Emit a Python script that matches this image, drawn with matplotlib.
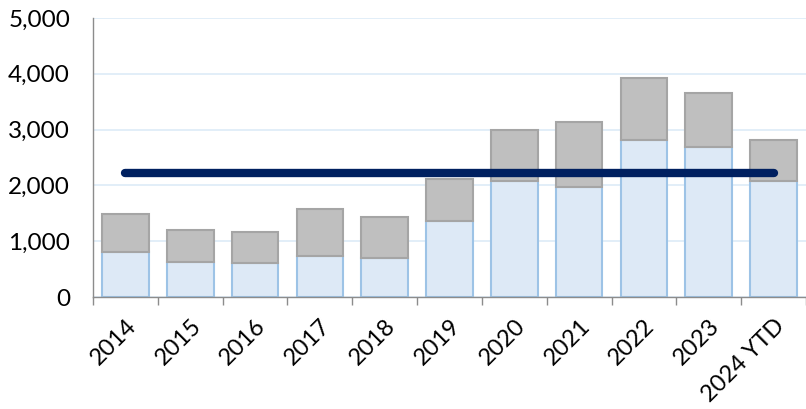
import matplotlib
matplotlib.use("Agg")
import matplotlib.pyplot as plt
import numpy as np

categories = ["2014", "2015", "2016", "2017", "2018", "2019", "2020",
              "2021", "2022", "2023", "2024 YTD"]
base_values = [800, 620, 610, 740, 690, 1370, 2075, 1975, 2815, 2690, 2075]
totals = [1490, 1200, 1160, 1580, 1440, 2120, 2990, 3140, 3930, 3660, 2810]
average = 2230
y_ticks = [0, 1000, 2000, 3000, 4000, 5000]

plt.rcParams["font.family"] = ["Lato", "DejaVu Sans"]

fig = plt.figure(figsize=(8.06, 4.09), dpi=100)
ax = fig.add_axes([93 / 806, 1 - 297 / 409, (806 - 93) / 806, (297 - 18) / 409])

x = np.arange(len(categories))
upper = [t - b for t, b in zip(totals, base_values)]

ax.bar(x, base_values, width=0.72, color="#DDE9F6", edgecolor="#9DC3E6",
       linewidth=1.5, zorder=2)
ax.bar(x, upper, bottom=base_values, width=0.72, color="#BFBFBF",
       edgecolor="#A5A5A5", linewidth=1.5, zorder=2)
ax.plot([x[0], x[-1]], [average, average], color="#002060", linewidth=6,
        solid_capstyle="round", zorder=3)

ax.set_xlim(-0.5, len(categories) - 0.5)
ax.set_ylim(0, 5000)
ax.set_yticks(y_ticks)
ax.set_yticklabels([f"{v:,}" for v in y_ticks], fontsize=17.5)
ax.tick_params(axis="y", length=0, pad=16.5)
ax.yaxis.grid(True, color="#DDEBF7", linewidth=1.2, zorder=0)
ax.set_axisbelow(True)

ax.set_xticks(x)
ax.set_xticklabels(categories, rotation=45, ha="right",
                   rotation_mode="anchor", fontsize=17)
ax.set_xticks(np.arange(len(categories) + 1) - 0.5, minor=True)
ax.tick_params(axis="x", which="major", length=0, pad=13)
ax.tick_params(axis="x", which="minor", length=6, color="#8C8C8C", width=1)

for side in ["top", "right"]:
    ax.spines[side].set_visible(False)
ax.spines["left"].set_color("#8C8C8C")
ax.spines["bottom"].set_color("#8C8C8C")
ax.spines["left"].set_linewidth(1)
ax.spines["bottom"].set_linewidth(1)

fig.savefig("out.png", dpi=100)
